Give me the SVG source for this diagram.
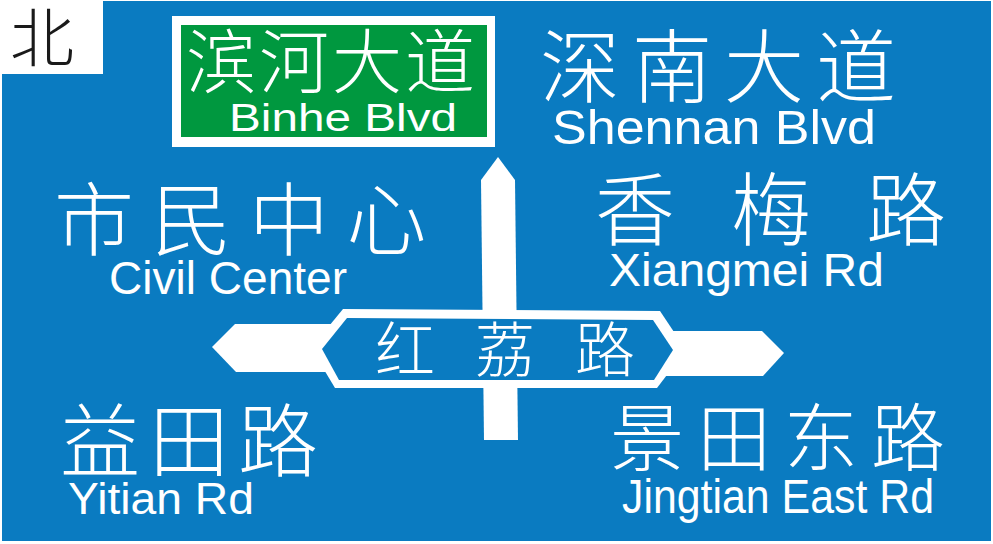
<svg xmlns="http://www.w3.org/2000/svg" width="993" height="544" viewBox="0 0 993 544">
  <style>
    .cjk { font-family: "Noto Sans CJK SC", sans-serif; font-weight: 300; fill: #ffffff; }
    .lat { font-family: "Liberation Sans", Arial, sans-serif; fill: #ffffff; }
    .wh { fill: #ffffff; }
    .bl { fill: #0A7BC1; }
  </style>
  <rect x="0" y="0" width="993" height="544" fill="#ffffff"/>
  <g id="panel">
    <path class="bl" d="M103 1 H991 V541 H2 V74 H103 Z"/>
  </g>
  <g id="north">
    <text class="cjk" x="10" y="61" font-size="64" style="fill:#1a1a1a">北</text>
  </g>
  <g id="binhe">
    <rect x="172" y="16" width="323" height="131" fill="#ffffff"/>
    <rect x="181" y="25" width="306" height="112" fill="#00983F"/>
    <text class="cjk" x="186 259 332 405" y="88" font-size="70">滨河大道</text>
    <text class="lat" x="229" y="131" font-size="39" textLength="228" lengthAdjust="spacingAndGlyphs">Binhe Blvd</text>
  </g>
  <g id="shennan">
    <text class="cjk" x="540 632 724 816" y="96" font-size="80">深南大道</text>
    <text class="lat" x="552" y="144" font-size="49" textLength="324" lengthAdjust="spacingAndGlyphs">Shennan Blvd</text>
  </g>
  <g id="civic">
    <text class="cjk" x="54 151.5 249 346.5" y="249" font-size="80">市民中心</text>
    <text class="lat" x="109" y="294" font-size="47" textLength="238" lengthAdjust="spacingAndGlyphs">Civil Center</text>
  </g>
  <g id="xiangmei">
    <text class="cjk" x="595 731 866" y="239" font-size="80">香梅路</text>
    <text class="lat" x="609" y="286" font-size="47" textLength="275" lengthAdjust="spacingAndGlyphs">Xiangmei Rd</text>
  </g>
  <g id="yitian">
    <text class="cjk" x="60 149 238" y="470" font-size="80">益田路</text>
    <text class="lat" x="68" y="514" font-size="45" textLength="186" lengthAdjust="spacingAndGlyphs">Yitian Rd</text>
  </g>
  <g id="jingtian">
    <text class="cjk" x="610 697 784 871" y="465" font-size="74">景田东路</text>
    <text class="lat" x="622" y="513" font-size="49" textLength="312" lengthAdjust="spacingAndGlyphs">Jingtian East Rd</text>
  </g>
  <g id="connectors">
    <polygon class="wh" points="498,157 515,180 518,440 484,440 481,180"/>
    <polygon class="wh" points="212,347 235,324 335,324 335,372 236,372"/>
    <polygon class="wh" points="662,331 762,331 784,353 763,376 662,376"/>
    <polygon class="wh" points="343,309 660,311 686,350 657,388 335,388 311,348"/>
    <polygon class="bl" points="347,318 653,320 673,350 654,380 339,380 322,349"/>
  </g>
  <g id="hongli">
    <text class="cjk" x="375 475 575" y="372" font-size="60">红荔路</text>
  </g>
</svg>
